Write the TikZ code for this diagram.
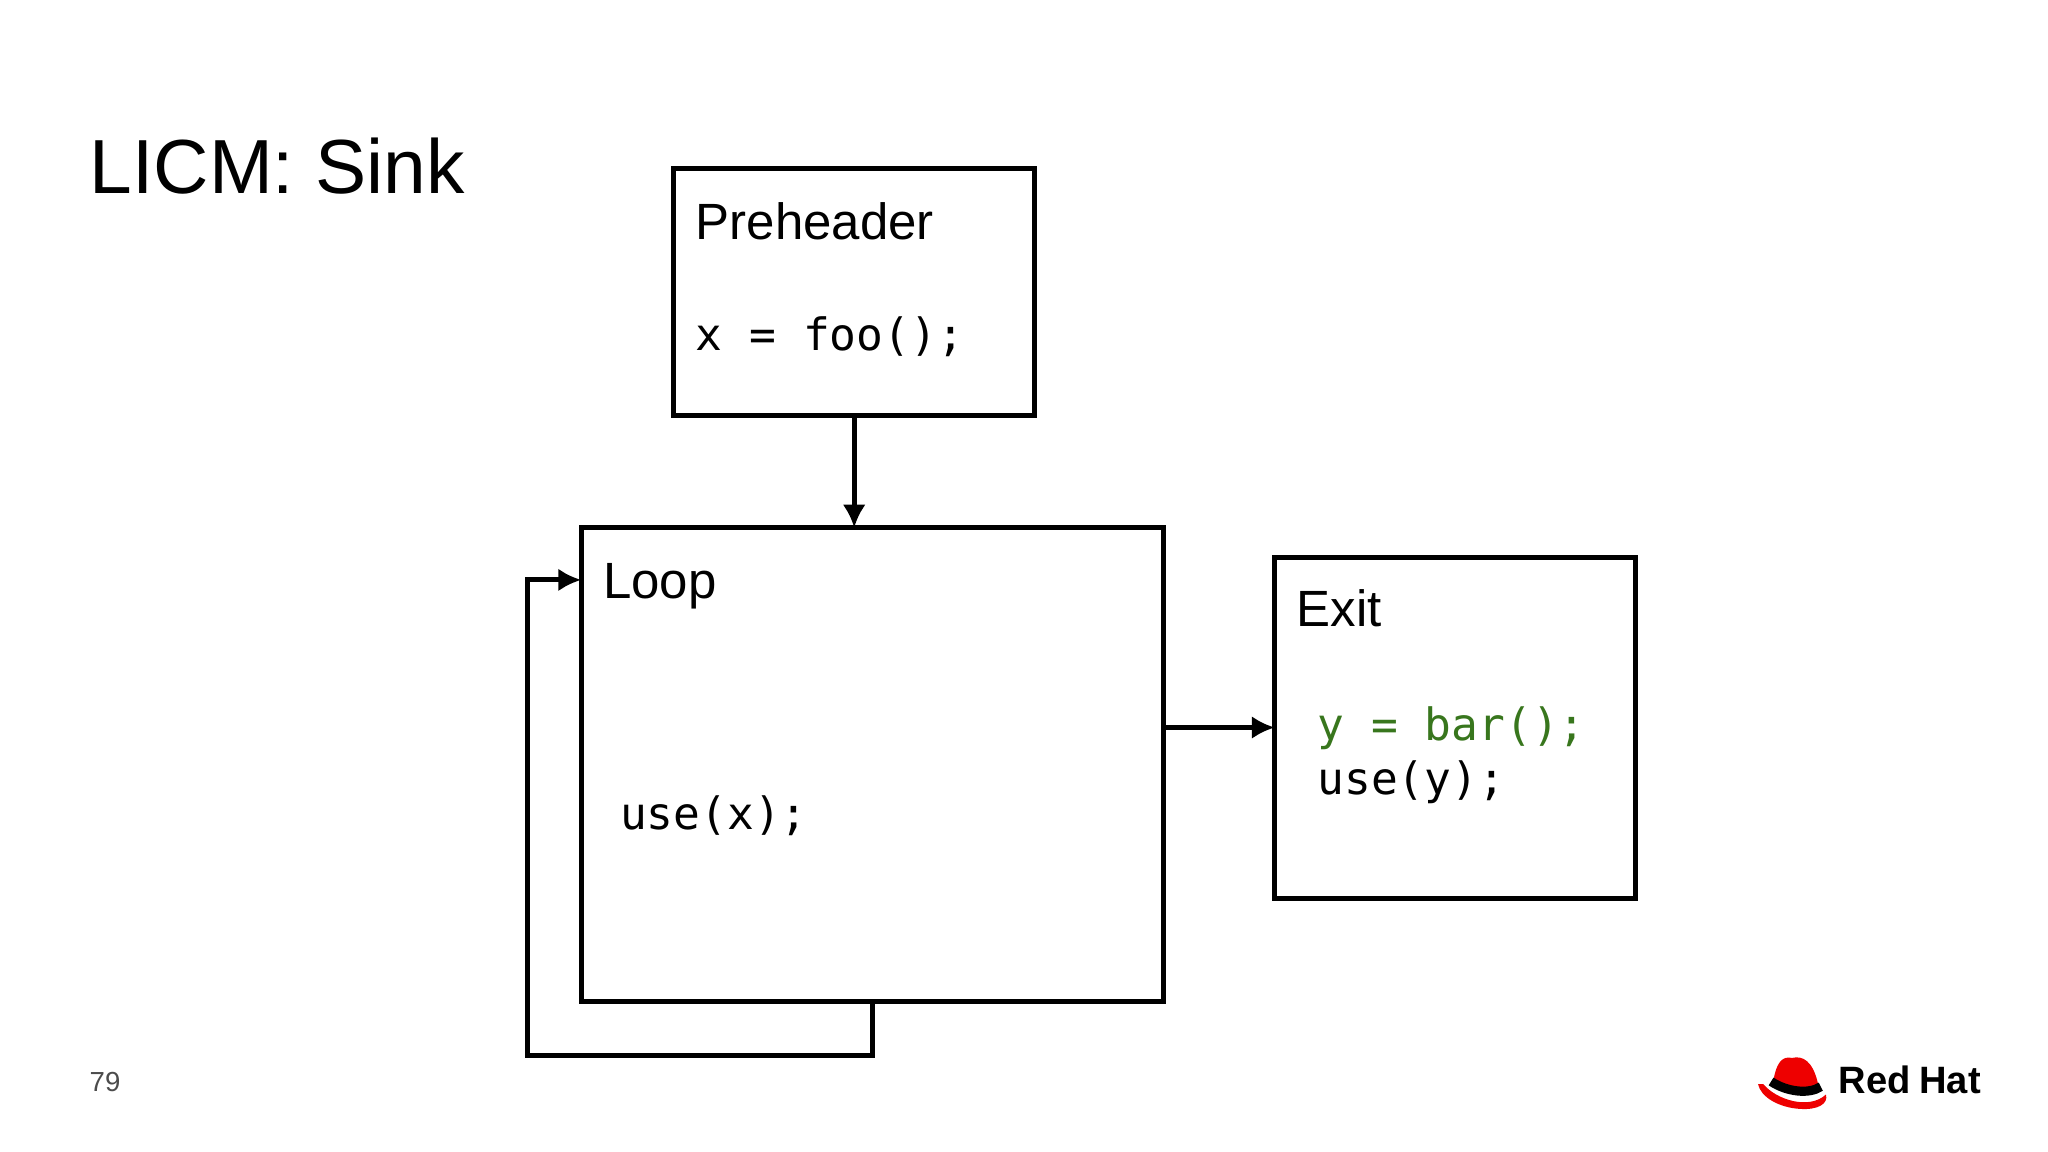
\documentclass[tikz,border=0pt]{standalone}
\usepackage{fontspec}
\setmainfont{Liberation Sans}
\newfontfamily\codefont{DejaVu Sans Mono}
\usetikzlibrary{arrows.meta}
\definecolor{codegreen}{HTML}{38761D}
\definecolor{rhred}{HTML}{EE0000}
\begin{document}
\begin{tikzpicture}[x=0.01cm,y=-0.01cm,
  blk/.style={draw,line width=1.1pt},
  lbl/.style={anchor=base west,inner sep=0pt,font=\fontsize{11.1}{13}\selectfont},
  code/.style={anchor=base west,inner sep=0pt,font=\codefont\fontsize{9.7}{12}\selectfont},
  arr/.style={line width=1.1pt,-{Latex[length=5pt,width=5pt]}}]
\useasboundingbox (0,0) rectangle (1568,882);
\node[lbl,anchor=base west,font=\fontsize{16.7}{20}\selectfont] (title) at (68,148) {LICM: Sink};
\draw[blk] (516,129) rectangle (792,318);
\coordinate (pb) at (654,318);
\node[lbl] (ph) at (532,183) {Preheader};
\node[code] (foo) at (532,268) {x = foo();};
\draw[blk] (445,404) rectangle (891,767);
\coordinate (lt) at (654,404);
\coordinate (lr) at (891,557);
\coordinate (lb) at (668,767);
\coordinate (ll) at (445,444);
\node[lbl] (loop) at (461,458) {Loop};
\node[code] (usex) at (474,635) {use(x);};
\draw[blk] (976,427) rectangle (1252,688);
\coordinate (el) at (976,557);
\node[lbl] (exit) at (992,480) {Exit};
\node[code,text=codegreen] (bar) at (1008,567) {y = bar();};
\node[code] (usey) at (1008,608) {use(y);};
\draw[arr] (pb) -- (lt);
\draw[arr] (lr) -- (el);
\draw[arr] (lb) -- (668,808) -- (404,808) -- (404,444) -- (ll);
\node[anchor=base west,inner sep=0pt,text=black!70,font=\fontsize{6}{7}\selectfont] (pg) at (68,836) {79};
\fill[rhred] (1350,830) .. controls (1360,842) and (1385,850) .. (1398,838)
  .. controls (1400,845) and (1392,850) .. (1378,849)
  .. controls (1362,848) and (1348,840) .. (1346,830) -- cycle;
\fill[rhred] (1358,826) .. controls (1360,815) and (1364,808) .. (1372,810)
  .. controls (1380,808) and (1388,812) .. (1392,830)
  .. controls (1380,836) and (1365,834) .. (1358,826) -- cycle;
\draw[line width=2pt] (1356,828) .. controls (1368,836) and (1385,838) .. (1394,832);
\node[anchor=base west,inner sep=0pt,font=\bfseries\fontsize{8.3}{10}\selectfont] (rh) at (1407,837) {Red\kern-0.05em{} Hat};
\end{tikzpicture}
\end{document}
